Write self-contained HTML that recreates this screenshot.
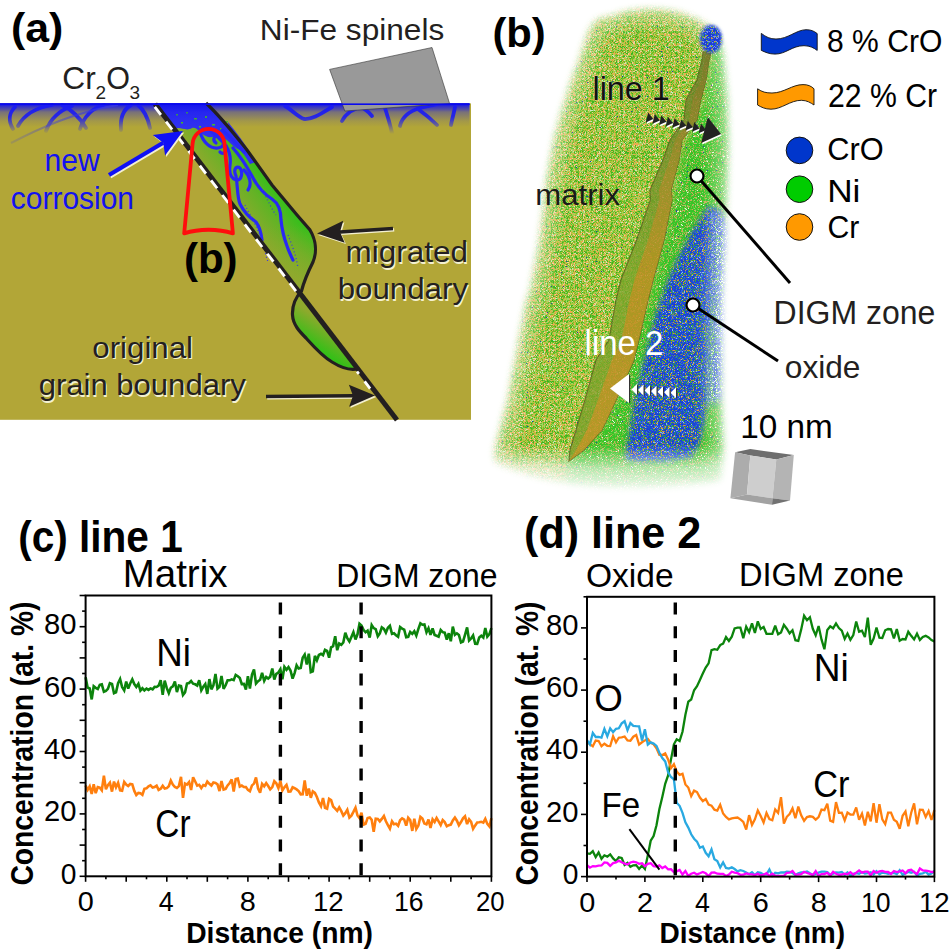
<!DOCTYPE html>
<html><head><meta charset="utf-8"><style>
html,body{margin:0;padding:0;background:#fff;}
svg{display:block;font-family:"Liberation Sans", sans-serif;}
</style></head><body>
<svg width="951" height="952" viewBox="0 0 951 952">
<rect width="951" height="952" fill="#fff"/>
<rect x="0" y="103.4" width="471" height="316.4" fill="#b2a637"/>
<defs>
<linearGradient id="blueband" x1="0" y1="103.4" x2="0" y2="127" gradientUnits="userSpaceOnUse">
 <stop offset="0" stop-color="#1414ec" stop-opacity="1"/>
 <stop offset="0.06" stop-color="#1414ec" stop-opacity="1"/>
 <stop offset="0.106" stop-color="#1414ec" stop-opacity="0.84"/>
 <stop offset="0.277" stop-color="#1414ec" stop-opacity="0.55"/>
 <stop offset="0.362" stop-color="#1414ec" stop-opacity="0.37"/>
 <stop offset="0.532" stop-color="#1414ec" stop-opacity="0.25"/>
 <stop offset="0.745" stop-color="#1414ec" stop-opacity="0.1"/>
 <stop offset="1" stop-color="#1414ec" stop-opacity="0"/>
</linearGradient>
<linearGradient id="fadeDown" x1="0" y1="103" x2="0" y2="134" gradientUnits="userSpaceOnUse">
 <stop offset="0" stop-color="#fff" stop-opacity="1"/>
 <stop offset="0.45" stop-color="#fff" stop-opacity="0.9"/>
 <stop offset="1" stop-color="#fff" stop-opacity="0"/>
</linearGradient>
<mask id="mFade"><rect x="0" y="100" width="471" height="40" fill="url(#fadeDown)"/></mask>
<linearGradient id="fadeL" x1="10" y1="0" x2="118" y2="0" gradientUnits="userSpaceOnUse"><stop offset="0" stop-color="#fff" stop-opacity="0.2"/><stop offset="1" stop-color="#fff" stop-opacity="1"/></linearGradient>
<mask id="mFade2"><rect x="0" y="100" width="200" height="50" fill="url(#fadeL)"/></mask>
<linearGradient id="gUp" x1="228" y1="200" x2="266" y2="171" gradientUnits="userSpaceOnUse">
 <stop offset="0" stop-color="#8fa92d"/>
 <stop offset="0.55" stop-color="#62b325"/>
 <stop offset="1" stop-color="#2ec119"/>
</linearGradient>
<linearGradient id="gUp2" x1="0" y1="225" x2="0" y2="292" gradientUnits="userSpaceOnUse">
 <stop offset="0" stop-color="#8fa92d" stop-opacity="0"/>
 <stop offset="1" stop-color="#95a82e" stop-opacity="0.9"/>
</linearGradient>
<linearGradient id="gLow" x1="318" y1="318" x2="300" y2="345" gradientUnits="userSpaceOnUse">
 <stop offset="0" stop-color="#8fa92d"/>
 <stop offset="1" stop-color="#1cc511"/>
</linearGradient>
</defs>
<path d="M155,103 L300,291 C303,285 307,274 313,262 C317,252 316,240 310,230 L297,215 L272,185 L247,150 C235,135 222,118 206,103 Z" fill="url(#gUp)"/>
<path d="M155,103 L300,291 C303,285 307,274 313,262 C317,252 316,240 310,230 L297,215 L272,185 L247,150 C235,135 222,118 206,103 Z" fill="url(#gUp2)"/>
<path d="M301.5,291 C296,297 292,305 292.5,315 C293,325 300,332 306,338 C315,348 322,356 332,362 C340,367 350,371 358.6,368.5 Z" fill="url(#gLow)"/>
<path d="M155,103 L175,129 C180,126 186,132 192,128 C197,126 200,134 206,136 C212,140 218,132 224,138 C230,142 234,148 240,150 C244,152 247,156 250,158 C240,140 230,125 218,114 C214,110 210,106 206,103 Z" fill="#3030f0"/>
<path d="M228,122 C236,132 244,142 252,156 L256,162 L250,164 C244,154 238,146 230,138 Z" fill="#3030f0"/>
<g fill="#46c21e"><rect x="186" y="112" width="2" height="1.5"/><rect x="194" y="118" width="3" height="1.5"/><rect x="205" y="116" width="2" height="2"/><rect x="212" y="124" width="3" height="1.5"/><rect x="199" y="126" width="2" height="1.5"/><rect x="220" y="128" width="2" height="2"/><rect x="181" y="122" width="2" height="1.5"/><rect x="226" y="121" width="2" height="1.5"/><rect x="176" y="114" width="2" height="1.5"/></g>
<g fill="none" stroke="#2828f5" stroke-width="3.2" stroke-linecap="round" stroke-linejoin="round"><path d="M200,132 C203,142 210,149 218,148 C225,147 226,139 220,136 C214,134 212,140 216,143"/><path d="M226,146 C230,152 231,158 230,165 C229,172 230,178 236,180 C242,181 243,172 240,168 C236,165 233,170 236,176 C238,188 237,196 240,204 C244,212 250,218 256,222 C259,226 261,232 262,240"/><path d="M233,148 C240,156 246,165 252,176 C258,188 264,194 272,199 C278,203 281,210 281,220 C282,230 284,238 287,246 C289,252 291,256 293,260"/><path d="M222,130 C232,138 238,146 244,152"/><path d="M208,128 C214,134 222,140 226,146 C228,150 224,156 220,152"/><path d="M244,170 C250,176 252,184 248,190"/></g>
<g fill="none" stroke="#3434f0" stroke-width="1.2" stroke-dasharray="1 2.5"><path d="M245,205 C250,215 256,225 262,240 C264,248 266,256 268,262"/><path d="M288,235 C292,245 296,255 298,268"/><path d="M262,190 C268,200 272,210 276,215"/></g>
<rect x="0" y="103.4" width="469.5" height="23.6" fill="url(#blueband)"/>
<g mask="url(#mFade)" fill="none" stroke="#1c1cf2" stroke-width="3.8" stroke-linecap="round"><path d="M15,107 C9,113 8,121 13,129"/><path d="M18,126 C24,115 34,108 52,105"/><path d="M46,131 C50,120 58,111 72,106"/><path d="M62,105 C72,110 80,118 86,128"/><path d="M80,129 C84,117 92,108 104,105"/><path d="M121,130 C120,118 124,109 131,105"/><path d="M138,105 C144,110 148,118 150,128"/><path d="M285,106 C292,110 298,117 304,119 C312,120 322,113 332,107"/><path d="M342,121 C346,113 354,108 366,105"/><path d="M357,105 C364,108 369,112 372,116"/><path d="M384,105 C387,114 390,124 392,133"/><path d="M400,126 C402,117 410,111 420,108 C428,106 434,105 437,104"/><path d="M418,109 C425,114 431,119 437,125"/><path d="M455,107 C454,113 452,119 451,125"/></g>
<path d="M11,143 C40,128 75,112 118,105" fill="none" stroke="#3a3ae0" stroke-width="2.2" opacity="0.8" mask="url(#mFade2)"/>
<rect x="0" y="103.4" width="469.5" height="1.6" fill="#0a0aee"/>
<path d="M206,103 C222,118 235,135 247,150 L272,185 L297,215 L310,230 C316,240 317,252 313,262 C307,274 303,285 301.5,291 C296,297 292,305 292.5,315 C293,325 300,332 306,338 C315,348 322,356 332,362 C340,367 350,371 358.6,368.5" fill="none" stroke="#231f20" stroke-width="3.2"/>
<line x1="155" y1="104" x2="397" y2="420" stroke="#231f20" stroke-width="5"/>
<line x1="153.6" y1="105.3" x2="300" y2="296.4" stroke="#fff" stroke-width="2.8" stroke-dasharray="10 8.5" stroke-dashoffset="-2"/>
<line x1="357" y1="371.5" x2="372" y2="391" stroke="#fff" stroke-width="2.8" stroke-dasharray="3 9.5 9 30"/>
<path d="M184.2,233.4 L192.6,143.6 A16,16 0 0 1 224.5,143.6 L232.9,233.4 C218,228.5 199,228.5 184.2,233.4 Z" fill="none" stroke="#ff0d0d" stroke-width="3.8" stroke-linejoin="round"/>
<line x1="110.2" y1="176.4" x2="164.4" y2="144.2" stroke="#f4f0d0" stroke-width="4.2"/><path d="M184.2,132.4 L166.3,157.0 L164.4,144.2 L154.0,136.4 Z" fill="#f4f0d0"/><line x1="109.0" y1="175.0" x2="163.2" y2="142.8" stroke="#1010f5" stroke-width="4.2"/><path d="M183.0,131.0 L165.1,155.6 L163.2,142.8 L152.8,135.0 Z" fill="#1010f5"/>
<line x1="394.2" y1="229.9" x2="341.2" y2="233.4" stroke="#f4f0d0" stroke-width="3.4"/><path d="M318.2,234.9 L344.4,222.2 L341.2,233.4 L345.9,244.1 Z" fill="#f4f0d0"/><line x1="393.0" y1="228.5" x2="340.0" y2="232.0" stroke="#231f20" stroke-width="3.4"/><path d="M317.0,233.5 L343.2,220.8 L340.0,232.0 L344.7,242.7 Z" fill="#231f20"/>
<line x1="267.2" y1="397.9" x2="354.2" y2="397.1" stroke="#f4f0d0" stroke-width="3.4"/><path d="M376.2,396.9 L350.3,408.1 L354.2,397.1 L350.1,386.1 Z" fill="#f4f0d0"/><line x1="266.0" y1="396.5" x2="353.0" y2="395.7" stroke="#231f20" stroke-width="3.4"/><path d="M375.0,395.5 L349.1,406.7 L353.0,395.7 L348.9,384.7 Z" fill="#231f20"/>
<path d="M329.6,69.4 L432,47.5 L449.6,103.5 L344.8,111 Z" fill="#999" stroke="#333" stroke-width="0.6"/>
<rect x="0" y="103.4" width="469.5" height="1.6" fill="#0a0aee"/>
<polyline points="85.6,677.2 87.6,687.5 89.7,688.5 91.7,699.4 93.7,686.2 95.7,687.8 97.8,689.0 99.8,684.8 101.8,684.3 103.9,691.8 105.9,690.9 107.9,688.9 109.9,683.2 112.0,683.9 114.0,693.2 116.0,692.3 118.1,683.1 120.1,679.0 122.1,687.1 124.2,690.4 126.2,681.6 128.2,688.6 130.2,683.5 132.3,679.4 134.3,684.1 136.3,686.9 138.4,683.7 140.4,690.6 142.4,688.3 144.4,690.4 146.5,688.6 148.5,689.9 150.5,688.4 152.6,689.3 154.6,686.9 156.6,687.0 158.6,685.7 160.7,680.2 162.7,694.8 164.7,680.6 166.8,688.2 168.8,693.1 170.8,687.8 172.8,686.4 174.9,681.5 176.9,692.1 178.9,685.6 181.0,686.1 183.0,695.0 185.0,692.5 187.0,683.5 189.1,683.0 191.1,681.0 193.1,683.7 195.2,684.3 197.2,685.6 199.2,680.2 201.3,690.3 203.3,686.8 205.3,684.1 207.3,693.9 209.4,679.1 211.4,689.3 213.4,685.4 215.5,674.0 217.5,688.6 219.5,686.8 221.5,676.0 223.6,688.9 225.6,685.3 227.6,680.3 229.7,680.3 231.7,679.3 233.7,680.1 235.7,674.9 237.8,676.2 239.8,678.0 241.8,684.1 243.9,683.9 245.9,689.6 247.9,676.3 249.9,688.5 252.0,674.6 254.0,669.4 256.0,683.5 258.1,681.2 260.1,679.8 262.1,672.9 264.2,680.9 266.2,676.9 268.2,678.5 270.2,676.7 272.3,668.6 274.3,679.5 276.3,673.9 278.4,672.5 280.4,669.2 282.4,679.3 284.4,666.9 286.5,669.8 288.5,667.1 290.5,670.5 292.6,678.6 294.6,673.1 296.6,665.3 298.6,668.6 300.7,668.0 302.7,657.7 304.7,654.6 306.8,664.6 308.8,653.7 310.8,672.2 312.8,671.4 314.9,655.8 316.9,660.3 318.9,655.0 321.0,653.8 323.0,655.2 325.0,649.8 327.1,650.9 329.1,657.7 331.1,647.4 333.1,646.1 335.2,636.3 337.2,650.2 339.2,643.6 341.3,644.9 343.3,642.5 345.3,632.7 347.3,638.2 349.4,641.5 351.4,636.9 353.4,632.2 355.5,639.5 357.5,634.3 359.5,623.7 361.5,625.5 363.6,630.0 365.6,632.2 367.6,630.6 369.7,637.6 371.7,625.1 373.7,628.1 375.7,629.1 377.8,636.3 379.8,633.4 381.8,627.4 383.9,628.8 385.9,632.7 387.9,627.8 389.9,625.8 392.0,633.9 394.0,633.3 396.0,635.2 398.1,636.7 400.1,627.1 402.1,628.6 404.2,629.6 406.2,637.3 408.2,636.8 410.2,632.0 412.3,633.9 414.3,631.3 416.3,635.6 418.4,628.9 420.4,623.3 422.4,624.7 424.4,624.5 426.5,632.3 428.5,628.2 430.5,634.8 432.6,628.5 434.6,635.0 436.6,635.7 438.6,636.6 440.7,630.0 442.7,632.2 444.7,632.7 446.8,639.5 448.8,633.2 450.8,641.2 452.8,626.7 454.9,634.8 456.9,633.3 458.9,634.9 461.0,642.4 463.0,641.5 465.0,634.8 467.1,627.4 469.1,640.5 471.1,638.5 473.1,635.4 475.2,643.7 477.2,643.8 479.2,637.5 481.3,635.8 483.3,637.6 485.3,628.1 487.3,636.7 489.4,634.2 491.4,628.1" fill="none" stroke="#0c840c" stroke-width="2.6" stroke-linejoin="miter" stroke-miterlimit="3"/>
<polyline points="85.6,785.5 87.6,790.0 89.7,786.4 91.7,793.9 93.7,784.3 95.7,793.2 97.8,787.1 99.8,787.6 101.8,790.2 103.9,775.8 105.9,789.3 107.9,785.1 109.9,782.6 112.0,791.6 114.0,781.6 116.0,787.3 118.1,782.8 120.1,790.3 122.1,790.7 124.2,781.9 126.2,784.6 128.2,786.0 130.2,784.0 132.3,784.4 134.3,790.9 136.3,795.0 138.4,792.9 140.4,793.3 142.4,794.9 144.4,788.8 146.5,788.3 148.5,786.3 150.5,785.3 152.6,787.6 154.6,787.0 156.6,785.7 158.6,789.9 160.7,788.7 162.7,785.8 164.7,788.5 166.8,788.1 168.8,786.2 170.8,780.6 172.8,784.5 174.9,787.0 176.9,788.0 178.9,786.1 181.0,776.9 183.0,797.9 185.0,783.5 187.0,784.6 189.1,782.1 191.1,790.0 193.1,777.2 195.2,781.5 197.2,785.6 199.2,784.8 201.3,788.1 203.3,785.1 205.3,785.8 207.3,781.6 209.4,783.8 211.4,785.5 213.4,782.5 215.5,783.0 217.5,784.3 219.5,791.1 221.5,781.1 223.6,789.6 225.6,788.9 227.6,785.4 229.7,783.0 231.7,779.4 233.7,791.5 235.7,779.1 237.8,778.5 239.8,786.6 241.8,785.6 243.9,787.0 245.9,787.1 247.9,789.9 249.9,791.3 252.0,785.4 254.0,783.6 256.0,777.5 258.1,788.5 260.1,792.7 262.1,783.9 264.2,786.3 266.2,783.1 268.2,786.0 270.2,789.3 272.3,787.1 274.3,781.2 276.3,783.3 278.4,788.1 280.4,780.9 282.4,790.4 284.4,787.4 286.5,785.0 288.5,791.7 290.5,791.5 292.6,787.3 294.6,788.2 296.6,789.4 298.6,791.1 300.7,794.3 302.7,794.2 304.7,780.4 306.8,795.7 308.8,788.5 310.8,797.8 312.8,791.3 314.9,792.9 316.9,797.0 318.9,802.4 321.0,806.2 323.0,798.0 325.0,807.8 327.1,808.7 329.1,798.8 331.1,800.0 333.1,806.5 335.2,808.6 337.2,810.8 339.2,807.3 341.3,811.1 343.3,815.6 345.3,813.2 347.3,809.8 349.4,817.5 351.4,815.6 353.4,811.9 355.5,807.7 357.5,815.5 359.5,818.1 361.5,812.6 363.6,824.7 365.6,823.8 367.6,818.0 369.7,817.5 371.7,819.9 373.7,831.9 375.7,818.7 377.8,819.0 379.8,821.4 381.8,818.9 383.9,816.0 385.9,821.3 387.9,825.1 389.9,828.6 392.0,821.2 394.0,824.2 396.0,823.6 398.1,825.8 400.1,820.2 402.1,818.4 404.2,819.6 406.2,825.6 408.2,817.7 410.2,820.0 412.3,830.9 414.3,818.8 416.3,829.0 418.4,825.5 420.4,816.9 422.4,818.5 424.4,823.5 426.5,824.4 428.5,819.6 430.5,827.9 432.6,819.3 434.6,822.0 436.6,818.0 438.6,821.3 440.7,825.0 442.7,820.0 444.7,822.1 446.8,826.3 448.8,825.2 450.8,824.6 452.8,820.4 454.9,817.6 456.9,820.7 458.9,825.3 461.0,822.0 463.0,818.3 465.0,816.3 467.1,824.1 469.1,819.3 471.1,821.9 473.1,828.8 475.2,825.4 477.2,822.5 479.2,822.3 481.3,821.8 483.3,822.6 485.3,818.8 487.3,823.9 489.4,826.4 491.4,818.2" fill="none" stroke="#ff7f0e" stroke-width="2.6" stroke-linejoin="miter" stroke-miterlimit="3"/>
<line x1="280.4" y1="602.5" x2="280.4" y2="876" stroke="#000" stroke-width="3.4" stroke-dasharray="12 11.7"/>
<line x1="361.1" y1="602.5" x2="361.1" y2="876" stroke="#000" stroke-width="3.4" stroke-dasharray="12 11.7"/>
<rect x="85.6" y="595.5" width="405.8" height="280.8" fill="none" stroke="#000" stroke-width="2"/>
<line x1="79.6" y1="876.3" x2="85.6" y2="876.3" stroke="#000" stroke-width="1.6"/>
<line x1="82.1" y1="860.7" x2="85.6" y2="860.7" stroke="#000" stroke-width="1.6"/>
<line x1="79.6" y1="845.1" x2="85.6" y2="845.1" stroke="#000" stroke-width="1.6"/>
<line x1="82.1" y1="829.5" x2="85.6" y2="829.5" stroke="#000" stroke-width="1.6"/>
<line x1="79.6" y1="813.9" x2="85.6" y2="813.9" stroke="#000" stroke-width="1.6"/>
<line x1="82.1" y1="798.3" x2="85.6" y2="798.3" stroke="#000" stroke-width="1.6"/>
<line x1="79.6" y1="782.7" x2="85.6" y2="782.7" stroke="#000" stroke-width="1.6"/>
<line x1="82.1" y1="767.1" x2="85.6" y2="767.1" stroke="#000" stroke-width="1.6"/>
<line x1="79.6" y1="751.5" x2="85.6" y2="751.5" stroke="#000" stroke-width="1.6"/>
<line x1="82.1" y1="735.9" x2="85.6" y2="735.9" stroke="#000" stroke-width="1.6"/>
<line x1="79.6" y1="720.3" x2="85.6" y2="720.3" stroke="#000" stroke-width="1.6"/>
<line x1="82.1" y1="704.7" x2="85.6" y2="704.7" stroke="#000" stroke-width="1.6"/>
<line x1="79.6" y1="689.1" x2="85.6" y2="689.1" stroke="#000" stroke-width="1.6"/>
<line x1="82.1" y1="673.5" x2="85.6" y2="673.5" stroke="#000" stroke-width="1.6"/>
<line x1="79.6" y1="657.9" x2="85.6" y2="657.9" stroke="#000" stroke-width="1.6"/>
<line x1="82.1" y1="642.3" x2="85.6" y2="642.3" stroke="#000" stroke-width="1.6"/>
<line x1="79.6" y1="626.7" x2="85.6" y2="626.7" stroke="#000" stroke-width="1.6"/>
<line x1="82.1" y1="611.1" x2="85.6" y2="611.1" stroke="#000" stroke-width="1.6"/>
<line x1="79.6" y1="595.5" x2="85.6" y2="595.5" stroke="#000" stroke-width="1.6"/>
<line x1="85.6" y1="876.3" x2="85.6" y2="881.8" stroke="#000" stroke-width="1.6"/>
<line x1="105.9" y1="876.3" x2="105.9" y2="879.3" stroke="#000" stroke-width="1.6"/>
<line x1="126.2" y1="876.3" x2="126.2" y2="881.8" stroke="#000" stroke-width="1.6"/>
<line x1="146.5" y1="876.3" x2="146.5" y2="879.3" stroke="#000" stroke-width="1.6"/>
<line x1="166.8" y1="876.3" x2="166.8" y2="881.8" stroke="#000" stroke-width="1.6"/>
<line x1="187.0" y1="876.3" x2="187.0" y2="879.3" stroke="#000" stroke-width="1.6"/>
<line x1="207.3" y1="876.3" x2="207.3" y2="881.8" stroke="#000" stroke-width="1.6"/>
<line x1="227.6" y1="876.3" x2="227.6" y2="879.3" stroke="#000" stroke-width="1.6"/>
<line x1="247.9" y1="876.3" x2="247.9" y2="881.8" stroke="#000" stroke-width="1.6"/>
<line x1="268.2" y1="876.3" x2="268.2" y2="879.3" stroke="#000" stroke-width="1.6"/>
<line x1="288.5" y1="876.3" x2="288.5" y2="881.8" stroke="#000" stroke-width="1.6"/>
<line x1="308.8" y1="876.3" x2="308.8" y2="879.3" stroke="#000" stroke-width="1.6"/>
<line x1="329.1" y1="876.3" x2="329.1" y2="881.8" stroke="#000" stroke-width="1.6"/>
<line x1="349.4" y1="876.3" x2="349.4" y2="879.3" stroke="#000" stroke-width="1.6"/>
<line x1="369.7" y1="876.3" x2="369.7" y2="881.8" stroke="#000" stroke-width="1.6"/>
<line x1="389.9" y1="876.3" x2="389.9" y2="879.3" stroke="#000" stroke-width="1.6"/>
<line x1="410.2" y1="876.3" x2="410.2" y2="881.8" stroke="#000" stroke-width="1.6"/>
<line x1="430.5" y1="876.3" x2="430.5" y2="879.3" stroke="#000" stroke-width="1.6"/>
<line x1="450.8" y1="876.3" x2="450.8" y2="881.8" stroke="#000" stroke-width="1.6"/>
<line x1="471.1" y1="876.3" x2="471.1" y2="879.3" stroke="#000" stroke-width="1.6"/>
<line x1="491.4" y1="876.3" x2="491.4" y2="881.8" stroke="#000" stroke-width="1.6"/>
<polyline points="587.0,853.4 589.9,853.8 592.8,851.2 595.7,857.2 598.6,852.5 601.5,858.8 604.4,855.3 607.3,856.6 610.2,854.4 613.1,858.4 616.0,861.0 618.8,857.3 621.7,858.0 624.6,864.9 627.5,862.8 630.4,866.8 633.3,865.3 636.2,865.1 639.1,868.9 642.0,865.6 644.9,869.0 647.8,855.6 650.7,840.7 653.6,836.1 656.5,825.2 659.4,809.0 662.3,796.9 665.2,783.8 668.1,775.4 671.0,759.4 673.9,744.3 676.7,739.3 679.6,741.0 682.5,731.8 685.4,714.7 688.3,701.7 691.2,699.5 694.1,690.2 697.0,686.2 699.9,680.0 702.8,673.6 705.7,667.6 708.6,663.4 711.5,650.1 714.4,649.1 717.3,649.8 720.2,645.1 723.1,643.6 726.0,637.0 728.9,641.0 731.8,636.7 734.6,628.4 737.5,627.7 740.4,627.7 743.3,638.1 746.2,626.6 749.1,632.0 752.0,623.4 754.9,632.9 757.8,621.4 760.7,628.9 763.6,627.0 766.5,633.8 769.4,633.9 772.3,633.8 775.2,625.7 778.1,634.3 781.0,632.4 783.9,624.8 786.8,628.7 789.6,633.3 792.5,630.2 795.4,640.2 798.3,640.9 801.2,629.4 804.1,615.8 807.0,620.2 809.9,617.3 812.8,628.8 815.7,635.3 818.6,626.0 821.5,639.4 824.4,649.3 827.3,629.9 830.2,626.4 833.1,628.3 836.0,623.4 838.9,628.1 841.8,630.6 844.7,638.9 847.5,633.5 850.4,639.8 853.3,635.0 856.2,621.6 859.1,631.7 862.0,630.7 864.9,637.1 867.8,617.7 870.7,644.8 873.6,638.6 876.5,627.6 879.4,637.7 882.3,638.0 885.2,630.3 888.1,629.0 891.0,629.4 893.9,638.5 896.8,629.1 899.7,640.7 902.6,639.0 905.5,639.5 908.3,631.8 911.2,635.8 914.1,639.4 917.0,633.6 919.9,639.9 922.8,636.9 925.7,635.8 928.6,637.4 931.5,640.0 934.4,641.5" fill="none" stroke="#0c840c" stroke-width="2.3" stroke-linejoin="miter" stroke-miterlimit="3"/>
<polyline points="587.0,742.4 589.9,744.1 592.8,746.3 595.7,740.6 598.6,741.0 601.5,746.2 604.4,743.7 607.3,745.8 610.2,746.1 613.1,736.2 616.0,742.4 618.8,737.7 621.7,737.3 624.6,736.5 627.5,740.4 630.4,740.7 633.3,736.7 636.2,735.0 639.1,744.6 642.0,742.3 644.9,740.4 647.8,738.9 650.7,742.8 653.6,744.3 656.5,748.4 659.4,754.8 662.3,755.0 665.2,753.4 668.1,759.5 671.0,768.1 673.9,764.2 676.7,771.4 679.6,774.8 682.5,773.8 685.4,784.4 688.3,787.6 691.2,796.1 694.1,790.6 697.0,792.0 699.9,797.6 702.8,801.1 705.7,799.0 708.6,804.6 711.5,805.6 714.4,809.7 717.3,810.6 720.2,804.8 723.1,813.5 726.0,817.0 728.9,819.4 731.8,818.3 734.6,817.9 737.5,817.5 740.4,819.4 743.3,821.9 746.2,829.6 749.1,815.2 752.0,824.9 754.9,819.3 757.8,810.5 760.7,816.0 763.6,822.5 766.5,813.0 769.4,819.0 772.3,820.2 775.2,809.4 778.1,812.9 781.0,797.2 783.9,823.6 786.8,816.8 789.6,814.0 792.5,808.4 795.4,818.2 798.3,806.6 801.2,815.4 804.1,820.8 807.0,817.1 809.9,816.3 812.8,816.8 815.7,819.6 818.6,817.1 821.5,809.6 824.4,810.1 827.3,803.7 830.2,820.6 833.1,821.9 836.0,802.1 838.9,812.8 841.8,812.6 844.7,820.4 847.5,812.5 850.4,814.5 853.3,814.6 856.2,807.4 859.1,819.7 862.0,813.6 864.9,825.4 867.8,811.8 870.7,821.3 873.6,803.2 876.5,822.7 879.4,804.2 882.3,819.4 885.2,824.1 888.1,812.7 891.0,812.6 893.9,819.8 896.8,821.7 899.7,828.7 902.6,815.8 905.5,811.5 908.3,826.2 911.2,812.7 914.1,803.4 917.0,824.3 919.9,809.7 922.8,809.8 925.7,816.9 928.6,811.0 931.5,819.8 934.4,810.1" fill="none" stroke="#ff7f0e" stroke-width="2.3" stroke-linejoin="miter" stroke-miterlimit="3"/>
<polyline points="587.0,740.2 589.9,744.5 592.8,732.9 595.7,737.0 598.6,736.8 601.5,737.6 604.4,728.9 607.3,736.2 610.2,728.3 613.1,732.1 616.0,728.8 618.8,728.3 621.7,723.4 624.6,721.2 627.5,730.1 630.4,723.1 633.3,725.9 636.2,726.2 639.1,726.4 642.0,740.6 644.9,729.2 647.8,744.7 650.7,742.4 653.6,743.6 656.5,745.9 659.4,752.8 662.3,758.0 665.2,761.4 668.1,772.2 671.0,777.0 673.9,779.4 676.7,802.7 679.6,805.8 682.5,812.8 685.4,822.3 688.3,827.6 691.2,834.3 694.1,838.7 697.0,841.6 699.9,847.8 702.8,846.5 705.7,852.8 708.6,856.3 711.5,849.5 714.4,859.2 717.3,861.1 720.2,867.4 723.1,862.4 726.0,868.0 728.9,868.6 731.8,867.2 734.6,869.0 737.5,871.4 740.4,870.2 743.3,871.0 746.2,872.4 749.1,874.2 752.0,872.2 754.9,875.0 757.8,872.3 760.7,872.9 763.6,874.6 766.5,874.4 769.4,869.4 772.3,875.7 775.2,872.8 778.1,873.4 781.0,872.3 783.9,872.5 786.8,871.7 789.6,871.9 792.5,873.0 795.4,874.9 798.3,873.4 801.2,872.3 804.1,872.3 807.0,871.4 809.9,873.3 812.8,874.7 815.7,873.9 818.6,872.7 821.5,871.7 824.4,871.7 827.3,872.0 830.2,874.9 833.1,873.7 836.0,872.4 838.9,872.7 841.8,872.0 844.7,874.9 847.5,872.3 850.4,875.7 853.3,873.9 856.2,873.1 859.1,873.7 862.0,872.0 864.9,873.6 867.8,873.2 870.7,872.3 873.6,874.5 876.5,871.2 879.4,874.2 882.3,872.5 885.2,873.0 888.1,873.9 891.0,873.2 893.9,872.9 896.8,874.0 899.7,870.3 902.6,874.8 905.5,873.4 908.3,871.8 911.2,872.7 914.1,871.9 917.0,875.6 919.9,873.8 922.8,873.4 925.7,871.7 928.6,874.6 931.5,873.6 934.4,870.9" fill="none" stroke="#29a9e1" stroke-width="2.3" stroke-linejoin="miter" stroke-miterlimit="3"/>
<polyline points="587.0,865.2 589.9,867.7 592.8,866.1 595.7,866.4 598.6,865.7 601.5,865.5 604.4,862.4 607.3,862.9 610.2,865.9 613.1,863.1 616.0,862.5 618.8,860.7 621.7,862.2 624.6,863.6 627.5,864.5 630.4,862.5 633.3,861.7 636.2,862.3 639.1,863.8 642.0,863.3 644.9,866.2 647.8,863.9 650.7,863.2 653.6,866.1 656.5,866.5 659.4,865.4 662.3,868.1 665.2,866.5 668.1,869.3 671.0,869.1 673.9,872.2 676.7,871.3 679.6,870.0 682.5,874.6 685.4,871.1 688.3,876.0 691.2,873.7 694.1,872.7 697.0,874.4 699.9,873.2 702.8,871.9 705.7,873.3 708.6,876.0 711.5,872.7 714.4,872.4 717.3,873.7 720.2,873.9 723.1,873.9 726.0,876.0 728.9,874.6 731.8,871.7 734.6,872.6 737.5,873.2 740.4,874.8 743.3,874.7 746.2,873.4 749.1,874.1 752.0,874.3 754.9,875.1 757.8,873.7 760.7,875.4 763.6,874.7 766.5,873.2 769.4,876.0 772.3,873.7 775.2,875.8 778.1,876.0 781.0,875.9 783.9,875.8 786.8,872.8 789.6,872.7 792.5,871.0 795.4,874.6 798.3,874.5 801.2,874.2 804.1,871.8 807.0,873.0 809.9,873.9 812.8,875.1 815.7,871.1 818.6,876.0 821.5,874.1 824.4,874.0 827.3,872.8 830.2,875.5 833.1,871.8 836.0,873.8 838.9,874.9 841.8,874.5 844.7,873.6 847.5,874.3 850.4,872.2 853.3,874.7 856.2,872.7 859.1,870.4 862.0,872.6 864.9,871.6 867.8,871.7 870.7,875.4 873.6,871.0 876.5,872.8 879.4,871.4 882.3,871.0 885.2,871.8 888.1,872.0 891.0,874.0 893.9,871.0 896.8,872.0 899.7,871.3 902.6,870.5 905.5,873.4 908.3,870.4 911.2,869.7 914.1,872.1 917.0,874.0 919.9,868.5 922.8,870.4 925.7,870.6 928.6,871.2 931.5,872.0 934.4,871.9" fill="none" stroke="#ff00ff" stroke-width="2.3" stroke-linejoin="miter" stroke-miterlimit="3"/>
<line x1="675.3" y1="602.5" x2="675.3" y2="876" stroke="#000" stroke-width="3.4" stroke-dasharray="12 11.7"/>
<rect x="587.0" y="596.8" width="347.4" height="279.8" fill="none" stroke="#000" stroke-width="2"/>
<line x1="581.0" y1="876.6" x2="587.0" y2="876.6" stroke="#000" stroke-width="1.6"/>
<line x1="583.5" y1="845.5" x2="587.0" y2="845.5" stroke="#000" stroke-width="1.6"/>
<line x1="581.0" y1="814.4" x2="587.0" y2="814.4" stroke="#000" stroke-width="1.6"/>
<line x1="583.5" y1="783.3" x2="587.0" y2="783.3" stroke="#000" stroke-width="1.6"/>
<line x1="581.0" y1="752.2" x2="587.0" y2="752.2" stroke="#000" stroke-width="1.6"/>
<line x1="583.5" y1="721.2" x2="587.0" y2="721.2" stroke="#000" stroke-width="1.6"/>
<line x1="581.0" y1="690.1" x2="587.0" y2="690.1" stroke="#000" stroke-width="1.6"/>
<line x1="583.5" y1="659.0" x2="587.0" y2="659.0" stroke="#000" stroke-width="1.6"/>
<line x1="581.0" y1="627.9" x2="587.0" y2="627.9" stroke="#000" stroke-width="1.6"/>
<line x1="583.5" y1="596.8" x2="587.0" y2="596.8" stroke="#000" stroke-width="1.6"/>
<line x1="587.0" y1="876.6" x2="587.0" y2="882.1" stroke="#000" stroke-width="1.6"/>
<line x1="616.0" y1="876.6" x2="616.0" y2="879.6" stroke="#000" stroke-width="1.6"/>
<line x1="644.9" y1="876.6" x2="644.9" y2="882.1" stroke="#000" stroke-width="1.6"/>
<line x1="673.9" y1="876.6" x2="673.9" y2="879.6" stroke="#000" stroke-width="1.6"/>
<line x1="702.8" y1="876.6" x2="702.8" y2="882.1" stroke="#000" stroke-width="1.6"/>
<line x1="731.8" y1="876.6" x2="731.8" y2="879.6" stroke="#000" stroke-width="1.6"/>
<line x1="760.7" y1="876.6" x2="760.7" y2="882.1" stroke="#000" stroke-width="1.6"/>
<line x1="789.6" y1="876.6" x2="789.6" y2="879.6" stroke="#000" stroke-width="1.6"/>
<line x1="818.6" y1="876.6" x2="818.6" y2="882.1" stroke="#000" stroke-width="1.6"/>
<line x1="847.5" y1="876.6" x2="847.5" y2="879.6" stroke="#000" stroke-width="1.6"/>
<line x1="876.5" y1="876.6" x2="876.5" y2="882.1" stroke="#000" stroke-width="1.6"/>
<line x1="905.5" y1="876.6" x2="905.5" y2="879.6" stroke="#000" stroke-width="1.6"/>
<line x1="934.4" y1="876.6" x2="934.4" y2="882.1" stroke="#000" stroke-width="1.6"/>
<line x1="629.4" y1="829.1" x2="659.4" y2="869.7" stroke="#000" stroke-width="2"/>
<defs><filter id="fMat" x="0" y="0" width="100%" height="100%" color-interpolation-filters="sRGB"><feTurbulence type="fractalNoise" baseFrequency="2.2" numOctaves="1" seed="3"/><feColorMatrix type="matrix" values="1 0 0 0 0  1 0 0 0 0  1 0 0 0 0  0 0 0 0 1"/><feComponentTransfer><feFuncR type="discrete" tableValues="0.431 0.431 0.431 0.431 0.431 0.431 0.431 0.431 0.431 0.431 0.431 0.431 0.431 0.431 0.431 0.431 0.431 0.431 0.431 0.431 0.431 0.431 0.431 0.431 0.431 0.431 0.706 0.706 0.706 0.706 0.922 0.922 0.961 0.627 0.627 0.627 0.627 0.784 0.235 0.235 0.235 0.235 0.235 0.235 0.235 0.235 0.157 0.157 0.157 0.157 0.157 0.157 0.157 0.157 0.157 0.157 0.157 0.157 0.157 0.157"/><feFuncG type="discrete" tableValues="0.745 0.745 0.745 0.745 0.745 0.745 0.745 0.745 0.745 0.745 0.745 0.745 0.745 0.745 0.745 0.745 0.745 0.745 0.745 0.745 0.745 0.745 0.745 0.745 0.745 0.745 0.765 0.765 0.765 0.765 0.667 0.667 0.804 0.843 0.843 0.843 0.843 0.922 0.706 0.706 0.706 0.706 0.706 0.706 0.706 0.706 0.235 0.235 0.235 0.235 0.235 0.235 0.235 0.235 0.235 0.235 0.235 0.235 0.235 0.235"/><feFuncB type="discrete" tableValues="0.157 0.157 0.157 0.157 0.157 0.157 0.157 0.157 0.157 0.157 0.157 0.157 0.157 0.157 0.157 0.157 0.157 0.157 0.157 0.157 0.157 0.157 0.157 0.157 0.157 0.157 0.235 0.235 0.235 0.235 0.314 0.314 0.588 0.392 0.392 0.392 0.392 0.745 0.118 0.118 0.118 0.118 0.118 0.118 0.118 0.118 0.667 0.667 0.667 0.667 0.667 0.667 0.667 0.667 0.667 0.667 0.667 0.667 0.667 0.667"/></feComponentTransfer><feGaussianBlur stdDeviation="0.3"/></filter><filter id="fDig" x="0" y="0" width="100%" height="100%" color-interpolation-filters="sRGB"><feTurbulence type="fractalNoise" baseFrequency="2.2" numOctaves="1" seed="5"/><feColorMatrix type="matrix" values="1 0 0 0 0  1 0 0 0 0  1 0 0 0 0  0 0 0 0 1"/><feComponentTransfer><feFuncR type="discrete" tableValues="0.216 0.216 0.216 0.216 0.216 0.216 0.216 0.216 0.216 0.216 0.216 0.216 0.216 0.216 0.216 0.216 0.216 0.216 0.216 0.216 0.216 0.216 0.216 0.216 0.216 0.216 0.216 0.216 0.216 0.216 0.216 0.373 0.373 0.373 0.588 0.588 0.784 0.784 0.784 0.922 0.588 0.588 0.588 0.588 0.588 0.157 0.157 0.157 0.157 0.157 0.157 0.157 0.157 0.157 0.157 0.157 0.157 0.157 0.157 0.157"/><feFuncG type="discrete" tableValues="0.765 0.765 0.765 0.765 0.765 0.765 0.765 0.765 0.765 0.765 0.765 0.765 0.765 0.765 0.765 0.765 0.765 0.765 0.765 0.765 0.765 0.765 0.765 0.765 0.765 0.765 0.765 0.765 0.765 0.765 0.765 0.804 0.804 0.804 0.843 0.843 0.686 0.686 0.686 0.961 0.667 0.667 0.667 0.667 0.667 0.235 0.235 0.235 0.235 0.235 0.235 0.235 0.235 0.235 0.235 0.235 0.235 0.235 0.235 0.235"/><feFuncB type="discrete" tableValues="0.157 0.157 0.157 0.157 0.157 0.157 0.157 0.157 0.157 0.157 0.157 0.157 0.157 0.157 0.157 0.157 0.157 0.157 0.157 0.157 0.157 0.157 0.157 0.157 0.157 0.157 0.157 0.157 0.157 0.157 0.157 0.216 0.216 0.216 0.431 0.431 0.353 0.353 0.353 0.882 0.235 0.235 0.235 0.235 0.235 0.667 0.667 0.667 0.667 0.667 0.667 0.667 0.667 0.667 0.667 0.667 0.667 0.667 0.667 0.667"/></feComponentTransfer><feGaussianBlur stdDeviation="0.3"/></filter><filter id="fOx" x="0" y="0" width="100%" height="100%" color-interpolation-filters="sRGB"><feTurbulence type="fractalNoise" baseFrequency="2.2" numOctaves="1" seed="7"/><feColorMatrix type="matrix" values="1 0 0 0 0  1 0 0 0 0  1 0 0 0 0  0 0 0 0 1"/><feComponentTransfer><feFuncR type="discrete" tableValues="0.549 0.549 0.549 0.549 0.549 0.549 0.549 0.549 0.549 0.549 0.549 0.549 0.549 0.549 0.549 0.549 0.549 0.549 0.549 0.118 0.118 0.118 0.118 0.118 0.118 0.118 0.118 0.353 0.098 0.098 0.098 0.098 0.627 0.196 0.196 0.196 0.863 0.196 0.196 0.196 0.196 0.196 0.196 0.196 0.196 0.196 0.196 0.196 0.196 0.196 0.196 0.196 0.196 0.196 0.196 0.196 0.196 0.196 0.196 0.196"/><feFuncG type="discrete" tableValues="0.706 0.706 0.706 0.706 0.706 0.706 0.706 0.706 0.706 0.706 0.706 0.706 0.706 0.706 0.706 0.706 0.706 0.706 0.706 0.294 0.294 0.294 0.294 0.294 0.294 0.294 0.294 0.451 0.255 0.255 0.255 0.255 0.588 0.667 0.667 0.667 0.588 0.412 0.412 0.412 0.412 0.412 0.412 0.412 0.412 0.412 0.412 0.412 0.412 0.412 0.412 0.412 0.412 0.412 0.412 0.412 0.412 0.412 0.412 0.412"/><feFuncB type="discrete" tableValues="0.922 0.922 0.922 0.922 0.922 0.922 0.922 0.922 0.922 0.922 0.922 0.922 0.922 0.922 0.922 0.922 0.922 0.922 0.922 0.843 0.843 0.843 0.843 0.843 0.843 0.843 0.843 0.627 0.824 0.824 0.824 0.824 0.235 0.235 0.235 0.235 0.235 0.882 0.882 0.882 0.882 0.882 0.882 0.882 0.882 0.882 0.882 0.882 0.882 0.882 0.882 0.882 0.882 0.882 0.882 0.882 0.882 0.882 0.882 0.882"/></feComponentTransfer><feGaussianBlur stdDeviation="0.3"/></filter><filter id="fBlob" x="0" y="0" width="100%" height="100%" color-interpolation-filters="sRGB"><feTurbulence type="fractalNoise" baseFrequency="2.2" numOctaves="1" seed="11"/><feColorMatrix type="matrix" values="1 0 0 0 0  1 0 0 0 0  1 0 0 0 0  0 0 0 0 1"/><feComponentTransfer><feFuncR type="discrete" tableValues="0.471 0.471 0.471 0.471 0.471 0.471 0.471 0.471 0.471 0.471 0.471 0.471 0.471 0.471 0.471 0.471 0.471 0.471 0.471 0.471 0.471 0.471 0.471 0.118 0.118 0.118 0.118 0.118 0.118 0.118 0.118 0.118 0.118 0.176 0.176 0.176 0.176 0.275 0.275 0.275 0.784 0.784 0.784 0.784 0.784 0.784 0.784 0.784 0.784 0.784 0.784 0.784 0.784 0.784 0.784 0.784 0.784 0.784 0.784 0.784"/><feFuncG type="discrete" tableValues="0.588 0.588 0.588 0.588 0.588 0.588 0.588 0.588 0.588 0.588 0.588 0.588 0.588 0.588 0.588 0.588 0.588 0.588 0.588 0.588 0.588 0.588 0.588 0.235 0.235 0.235 0.235 0.235 0.235 0.235 0.235 0.235 0.235 0.353 0.353 0.353 0.353 0.667 0.667 0.667 0.588 0.588 0.588 0.588 0.588 0.588 0.588 0.588 0.588 0.588 0.588 0.588 0.588 0.588 0.588 0.588 0.588 0.588 0.588 0.588"/><feFuncB type="discrete" tableValues="0.902 0.902 0.902 0.902 0.902 0.902 0.902 0.902 0.902 0.902 0.902 0.902 0.902 0.902 0.902 0.902 0.902 0.902 0.902 0.902 0.902 0.902 0.902 0.843 0.843 0.843 0.843 0.843 0.843 0.843 0.843 0.843 0.843 0.882 0.882 0.882 0.882 0.275 0.275 0.275 0.275 0.275 0.275 0.275 0.275 0.275 0.275 0.275 0.275 0.275 0.275 0.275 0.275 0.275 0.275 0.275 0.275 0.275 0.275 0.275"/></feComponentTransfer><feGaussianBlur stdDeviation="0.3"/></filter><filter id="fOxF" x="0" y="0" width="100%" height="100%" color-interpolation-filters="sRGB"><feTurbulence type="fractalNoise" baseFrequency="2.2" numOctaves="1" seed="9"/><feColorMatrix type="matrix" values="1 0 0 0 0  1 0 0 0 0  1 0 0 0 0  0 0 0 0 1"/><feComponentTransfer><feFuncR type="discrete" tableValues="0.965 0.965 0.965 0.965 0.965 0.965 0.965 0.965 0.965 0.965 0.965 0.965 0.965 0.965 0.965 0.965 0.965 0.965 0.965 0.965 0.965 0.965 0.965 0.353 0.353 0.353 0.353 0.353 0.353 0.353 0.137 0.137 0.137 0.137 0.137 0.392 0.392 0.392 0.392 0.392 0.392 0.392 0.392 0.392 0.392 0.392 0.392 0.392 0.392 0.392 0.392 0.392 0.392 0.392 0.392 0.392 0.392 0.392 0.392 0.392"/><feFuncG type="discrete" tableValues="0.980 0.980 0.980 0.980 0.980 0.980 0.980 0.980 0.980 0.980 0.980 0.980 0.980 0.980 0.980 0.980 0.980 0.980 0.980 0.980 0.980 0.980 0.980 0.510 0.510 0.510 0.510 0.510 0.510 0.510 0.294 0.294 0.294 0.294 0.294 0.784 0.784 0.784 0.784 0.784 0.784 0.784 0.784 0.784 0.784 0.784 0.784 0.784 0.784 0.784 0.784 0.784 0.784 0.784 0.784 0.784 0.784 0.784 0.784 0.784"/><feFuncB type="discrete" tableValues="0.949 0.949 0.949 0.949 0.949 0.949 0.949 0.949 0.949 0.949 0.949 0.949 0.949 0.949 0.949 0.949 0.949 0.949 0.949 0.949 0.949 0.949 0.949 0.902 0.902 0.902 0.902 0.902 0.902 0.902 0.824 0.824 0.824 0.824 0.824 0.353 0.353 0.353 0.353 0.353 0.353 0.353 0.353 0.353 0.353 0.353 0.353 0.353 0.353 0.353 0.353 0.353 0.353 0.353 0.353 0.353 0.353 0.353 0.353 0.353"/></feComponentTransfer><feGaussianBlur stdDeviation="0.3"/></filter><filter id="fBlur8" x="-30%" y="-30%" width="160%" height="160%"><feGaussianBlur stdDeviation="3.5"/></filter><filter id="fBlur8b" x="-30%" y="-30%" width="160%" height="160%"><feGaussianBlur stdDeviation="8"/></filter><filter id="fBlur25" x="-30%" y="-30%" width="160%" height="160%"><feGaussianBlur stdDeviation="2.5"/></filter><filter id="fBlur4" x="-30%" y="-30%" width="160%" height="160%"><feGaussianBlur stdDeviation="4"/></filter><filter id="fBlur3" x="-30%" y="-30%" width="160%" height="160%"><feGaussianBlur stdDeviation="3"/></filter><filter id="fBlurS" x="-30%" y="-30%" width="160%" height="160%"><feGaussianBlur stdDeviation="0.7"/></filter><filter id="fBlur2" x="-30%" y="-30%" width="160%" height="160%"><feGaussianBlur stdDeviation="1.5"/></filter><mask id="mCone" maskUnits="userSpaceOnUse" x="460" y="0" width="300" height="520"><path d="M613,16 C625,10 645,8 665,10 C685,13 700,19 712,29 C718,35 721,45 723,55 L727,100 L728,150 L726,200 L724,250 L721,300 L721,350 L721,400 L723,450 L720,480 C700,486 640,489 600,487 C560,484 525,476 495,462 L495,450 L500,430 L508,400 L511.5,380 L515.4,360 L519,340 L523,320 L526.7,300 L530.4,290 L538,250 L542.9,215 L544,200 L546.6,180 L550.4,160 L554.2,140 L559.3,120 L565.4,100 L571.7,80 L579.3,60 L585.6,40 L589.4,30 L596,21 C600,18 606,17 613,16 Z" fill="#fff" filter="url(#fBlur8)"/></mask><mask id="mDig" maskUnits="userSpaceOnUse" x="460" y="0" width="300" height="520"><path d="M712,55 L705,100 L683,150 L673,200 L662,250 L648,300 L632,350 L617,400 L601,430 L569,459 L560,500 L740,500 L740,20 L716,20 Z" fill="#fff" filter="url(#fBlur3)"/></mask><mask id="mOx" maskUnits="userSpaceOnUse" x="460" y="0" width="300" height="520"><path d="M708,207 C718,206 726,212 728,230 L725,260 L714,300 L710,350 L708,400 L701,440 L692,457 C670,463 645,463 626,460 L626,450 L630,430 L634,400 L644,360 L654,320 L664,290 L676,262 L690,235 Z" fill="#fff" filter="url(#fBlur25)"/></mask><mask id="mOxF" maskUnits="userSpaceOnUse" x="460" y="0" width="300" height="520"><path d="M712,215 L730,220 L731,300 L728,360 L724,400 L708,405 L708,380 L712,300 Z" fill="#fff" filter="url(#fBlur4)"/></mask><mask id="mBlob" maskUnits="userSpaceOnUse" x="680" y="10" width="60" height="60"><ellipse cx="711" cy="39" rx="11" ry="14" fill="#fff" filter="url(#fBlur2)"/></mask><clipPath id="cGB"><path d="M711,52 L709,60 L706,80 L700.6,100 L697,120 L682,140 L679,160 L671,190 L672,200 L664,240 L653,280 L648,300 L638.8,340 L634,360 L616,400 L602,430 L584,450 L569,461 L570,450 L576,430 L585,400 L596,360 L609,340 L616,300 L621,280 L636.6,240 L650.4,200 L650,190 L663,160 L670,140 L684,120 L686,100 L697,80 L702,60 L703,52 Z"/></clipPath><linearGradient id="gGBo" x1="0" y1="50" x2="0" y2="460" gradientUnits="userSpaceOnUse"><stop offset="0" stop-color="#6f6a26"/><stop offset="0.3" stop-color="#7f8a2a"/><stop offset="0.55" stop-color="#86a02c"/><stop offset="1" stop-color="#8a9a2c"/></linearGradient><linearGradient id="gGBc" x1="0" y1="50" x2="0" y2="460" gradientUnits="userSpaceOnUse"><stop offset="0" stop-color="#82702a"/><stop offset="0.3" stop-color="#b0882c"/><stop offset="0.55" stop-color="#cc8c22"/><stop offset="1" stop-color="#d49028"/></linearGradient><linearGradient id="gGB" x1="0" y1="0" x2="1" y2="0.15"><stop offset="0" stop-color="#7f7a20"/><stop offset="0.35" stop-color="#b0962e"/><stop offset="0.7" stop-color="#c09a30"/><stop offset="1" stop-color="#8a9426"/></linearGradient><linearGradient id="gFadeL" x1="480" y1="0" x2="560" y2="0" gradientUnits="userSpaceOnUse"><stop offset="0" stop-color="#fff" stop-opacity="0.55"/><stop offset="1" stop-color="#fff" stop-opacity="0"/></linearGradient><linearGradient id="gFadeB" x1="0" y1="445" x2="0" y2="490" gradientUnits="userSpaceOnUse"><stop offset="0" stop-color="#fff" stop-opacity="0"/><stop offset="0.5" stop-color="#fff" stop-opacity="0.55"/><stop offset="1" stop-color="#fff" stop-opacity="0.8"/></linearGradient></defs>
<g mask="url(#mCone)">
<rect x="460" y="0" width="290" height="520" filter="url(#fMat)"/>
<g mask="url(#mDig)"><rect x="460" y="0" width="290" height="520" filter="url(#fDig)"/></g>
<g mask="url(#mOx)"><rect x="590" y="180" width="160" height="300" filter="url(#fOx)"/></g>
<g mask="url(#mOxF)"><rect x="590" y="180" width="160" height="300" filter="url(#fOxF)"/></g>
<rect x="460" y="0" width="290" height="520" fill="url(#gFadeB)"/>
<path d="M613,16 C625,10 645,8 665,10 C685,13 700,19 712,29 C718,35 721,45 723,55 L727,100 L728,150 L726,200 L724,250 L721,300 L721,350 L721,400 L723,450 L720,480 C700,486 640,489 600,487 C560,484 525,476 495,462 L495,450 L500,430 L508,400 L511.5,380 L515.4,360 L519,340 L523,320 L526.7,300 L530.4,290 L538,250 L542.9,215 L544,200 L546.6,180 L550.4,160 L554.2,140 L559.3,120 L565.4,100 L571.7,80 L579.3,60 L585.6,40 L589.4,30 L596,21 C600,18 606,17 613,16 Z" fill="none" stroke="#fff" stroke-width="26" opacity="0.38" filter="url(#fBlur8b)"/>
</g>
<path d="M711,52 L709,60 L706,80 L700.6,100 L697,120 L682,140 L679,160 L671,190 L672,200 L664,240 L653,280 L648,300 L638.8,340 L634,360 L616,400 L602,430 L584,450 L569,461 L570,450 L576,430 L585,400 L596,360 L609,340 L616,300 L621,280 L636.6,240 L650.4,200 L650,190 L663,160 L670,140 L684,120 L686,100 L697,80 L702,60 L703,52 Z" fill="url(#gGBo)" opacity="0.82" stroke="#5e5a1c" stroke-width="1.2" filter="url(#fBlurS)"/>
<path d="M711.0,52 L709.0,60 L706.0,80 L700.6,100 L697.0,120 L682.0,140 L679.0,160 L671.0,190 L672.0,200 L664.0,240 L653.0,280 L648.0,300 L638.8,340 L634.0,360 L616.0,400 L602.0,430 L584.0,450 L569.0,461 L575.9,450 L586.9,430 L598.0,400 L612.0,360 L621.5,340 L629.4,300 L634.4,280 L648.1,240 L659.5,200 L658.8,190 L669.7,160 L675.0,140 L689.5,120 L692.1,100 L700.8,80 L704.9,60 L706.4,52 Z" fill="url(#gGBc)" opacity="0.85" filter="url(#fBlurS)"/>
<g clip-path="url(#cGB)" opacity="0.14"><rect x="560" y="40" width="160" height="430" filter="url(#fDig)"/></g>
<g mask="url(#mBlob)"><rect x="690" y="20" width="40" height="45" filter="url(#fBlob)"/></g>
<path d="M648.2,112.6 L653.3,119.1 L645.8,122.4Z" fill="#fff" transform="translate(0.8,1.5)"/><path d="M648.2,112.6 L653.3,119.1 L645.8,122.4Z" fill="#222"/><path d="M654.8,114.0 L659.9,120.4 L652.4,123.7Z" fill="#fff" transform="translate(0.8,1.5)"/><path d="M654.8,114.0 L659.9,120.4 L652.4,123.7Z" fill="#222"/><path d="M661.4,115.3 L666.5,121.8 L659.0,125.1Z" fill="#fff" transform="translate(0.8,1.5)"/><path d="M661.4,115.3 L666.5,121.8 L659.0,125.1Z" fill="#222"/><path d="M668.0,116.7 L673.1,123.1 L665.6,126.4Z" fill="#fff" transform="translate(0.8,1.5)"/><path d="M668.0,116.7 L673.1,123.1 L665.6,126.4Z" fill="#222"/><path d="M674.6,118.0 L679.7,124.5 L672.2,127.8Z" fill="#fff" transform="translate(0.8,1.5)"/><path d="M674.6,118.0 L679.7,124.5 L672.2,127.8Z" fill="#222"/><path d="M681.2,119.4 L686.3,125.8 L678.8,129.1Z" fill="#fff" transform="translate(0.8,1.5)"/><path d="M681.2,119.4 L686.3,125.8 L678.8,129.1Z" fill="#222"/><path d="M687.8,120.7 L692.9,127.2 L685.4,130.5Z" fill="#fff" transform="translate(0.8,1.5)"/><path d="M687.8,120.7 L692.9,127.2 L685.4,130.5Z" fill="#222"/><path d="M694.4,122.1 L699.5,128.5 L692.0,131.8Z" fill="#fff" transform="translate(0.8,1.5)"/><path d="M694.4,122.1 L699.5,128.5 L692.0,131.8Z" fill="#222"/><path d="M701.0,123.4 L706.1,129.9 L698.6,133.2Z" fill="#fff" transform="translate(0.8,1.5)"/><path d="M701.0,123.4 L706.1,129.9 L698.6,133.2Z" fill="#222"/>
<path d="M707.8,116.9 L721.0,134.1 L701.2,143.1Z" fill="#fff" transform="translate(0.8,1.5)"/><path d="M707.8,116.9 L721.0,134.1 L701.2,143.1Z" fill="#222"/>
<path d="M676.0,387.3 L670.5,392.8 L676.0,398.3Z" fill="#333" transform="translate(1.2,0.5)"/><path d="M676.0,387.3 L670.5,392.8 L676.0,398.3Z" fill="#fff"/><path d="M669.5,386.8 L664.0,392.2 L669.5,397.8Z" fill="#333" transform="translate(1.2,0.5)"/><path d="M669.5,386.8 L664.0,392.2 L669.5,397.8Z" fill="#fff"/><path d="M663.0,386.2 L657.5,391.7 L663.0,397.2Z" fill="#333" transform="translate(1.2,0.5)"/><path d="M663.0,386.2 L657.5,391.7 L663.0,397.2Z" fill="#fff"/><path d="M656.5,385.7 L651.0,391.2 L656.5,396.7Z" fill="#333" transform="translate(1.2,0.5)"/><path d="M656.5,385.7 L651.0,391.2 L656.5,396.7Z" fill="#fff"/><path d="M650.0,385.1 L644.5,390.6 L650.0,396.1Z" fill="#333" transform="translate(1.2,0.5)"/><path d="M650.0,385.1 L644.5,390.6 L650.0,396.1Z" fill="#fff"/><path d="M643.5,384.6 L638.0,390.1 L643.5,395.6Z" fill="#333" transform="translate(1.2,0.5)"/><path d="M643.5,384.6 L638.0,390.1 L643.5,395.6Z" fill="#fff"/><path d="M637.0,384.0 L631.5,389.5 L637.0,395.0Z" fill="#333" transform="translate(1.2,0.5)"/><path d="M637.0,384.0 L631.5,389.5 L637.0,395.0Z" fill="#fff"/>
<path d="M629.0,374.0 L610.0,388.5 L629.0,403.0Z" fill="#333" transform="translate(1.2,0.5)"/><path d="M629.0,374.0 L610.0,388.5 L629.0,403.0Z" fill="#fff"/>
<line x1="697" y1="176" x2="790" y2="283" stroke="#000" stroke-width="3"/>
<line x1="693" y1="305" x2="778" y2="361" stroke="#000" stroke-width="3"/>
<circle cx="697" cy="176" r="6.5" fill="#fff" stroke="#000" stroke-width="2.2"/>
<circle cx="693" cy="305" r="6.5" fill="#fff" stroke="#000" stroke-width="2.2"/>
<path d="M761.3,33.4 C766,37 770,39 776,39 C788,39 796,30 806,29.7 C811,29.7 814,31 817.2,33.6 L817.2,50.4 C814,48 810,45.7 804,45.7 C792,45.7 786,54.1 775,54.1 C769,54.1 765,52 761.3,50.4 Z" fill="#0036cc" stroke="#111" stroke-width="0.9"/>
<path d="M757.6,88.8 C762,92 766,93 772,93 C784,93 792,84.6 803,84.6 C808,84.6 811,86 814,88.8 L814,105 C811,103 807,100.3 801.4,100.3 C790,100.3 782,109.2 771,109.2 C765,109.2 761,107 757.6,105 Z" fill="#ff9900" stroke="#111" stroke-width="0.9"/>
<circle cx="799.5" cy="150.4" r="13.3" fill="#0036cc" stroke="#111" stroke-width="1"/>
<circle cx="799.5" cy="189.2" r="13.3" fill="#00cc00" stroke="#111" stroke-width="1"/>
<circle cx="799.5" cy="227" r="13.3" fill="#ff9900" stroke="#111" stroke-width="1"/>
<path d="M735.1,452.3 L750.3,449 L793.8,455.1 L776.3,459.4 L750.3,455.6 Z" fill="#6e6e6e"/>
<path d="M735.1,452.3 L750.3,455.6 L747,494.4 L730.4,498.2 Z" fill="#acacac"/>
<path d="M750.3,455.6 L776.3,459.4 L772.5,498.2 L747,494.4 Z" fill="#cecece"/>
<path d="M776.3,459.4 L793.8,455.1 L790,500.6 L772.5,498.2 Z" fill="#b4b4b4"/>
<path d="M730.4,498.2 L747,494.4 L772.5,498.2 L772,504.8 Z" fill="#a2a2a2"/>
<path d="M772.5,498.2 L790,500.6 L772,504.8 Z" fill="#727272"/>
<text x="10.91" y="42.00" font-size="41" font-weight="700" fill="#000" textLength="52.29" lengthAdjust="spacingAndGlyphs" >(a)</text>
<text x="259.86" y="40.40" font-size="29.5" font-weight="400" fill="#231f20" textLength="184.36" lengthAdjust="spacingAndGlyphs" >Ni-Fe spinels</text>
<text x="44.52" y="171.20" font-size="32" font-weight="400" fill="#1212f0" textLength="55.30" lengthAdjust="spacingAndGlyphs" >new</text>
<text x="10.86" y="209.20" font-size="32" font-weight="400" fill="#1212f0" textLength="123.14" lengthAdjust="spacingAndGlyphs" >corrosion</text>
<text x="183.90" y="273.00" font-size="42" font-weight="700" fill="#000" textLength="53.75" lengthAdjust="spacingAndGlyphs" >(b)</text>
<text x="346.77" y="263.70" font-size="29.5" font-weight="400" fill="#f4f0d0" textLength="122.33" lengthAdjust="spacingAndGlyphs" >migrated</text>
<text x="345.57" y="262.30" font-size="29.5" font-weight="400" fill="#231f20" textLength="122.33" lengthAdjust="spacingAndGlyphs" >migrated</text>
<text x="338.88" y="300.80" font-size="29.5" font-weight="400" fill="#f4f0d0" textLength="130.34" lengthAdjust="spacingAndGlyphs" >boundary</text>
<text x="337.68" y="299.40" font-size="29.5" font-weight="400" fill="#231f20" textLength="130.34" lengthAdjust="spacingAndGlyphs" >boundary</text>
<text x="93.54" y="359.00" font-size="29.5" font-weight="400" fill="#f4f0d0" textLength="100.71" lengthAdjust="spacingAndGlyphs" >original</text>
<text x="92.34" y="357.60" font-size="29.5" font-weight="400" fill="#231f20" textLength="100.71" lengthAdjust="spacingAndGlyphs" >original</text>
<text x="39.85" y="396.50" font-size="29.5" font-weight="400" fill="#f4f0d0" textLength="207.16" lengthAdjust="spacingAndGlyphs" >grain boundary</text>
<text x="38.65" y="395.10" font-size="29.5" font-weight="400" fill="#231f20" textLength="207.16" lengthAdjust="spacingAndGlyphs" >grain boundary</text>
<text x="62.29" y="88.90" font-size="31.5" font-weight="400" fill="#231f20" textLength="33.46" lengthAdjust="spacingAndGlyphs" >Cr</text>
<text x="95.40" y="98.80" font-size="19" font-weight="400" fill="#231f20" textLength="10.58" lengthAdjust="spacingAndGlyphs" >2</text>
<text x="106.33" y="88.90" font-size="31.5" font-weight="400" fill="#231f20" textLength="23.74" lengthAdjust="spacingAndGlyphs" >O</text>
<text x="129.50" y="99.00" font-size="19" font-weight="400" fill="#231f20" textLength="10.58" lengthAdjust="spacingAndGlyphs" >3</text>
<text x="60.63" y="883.70" font-size="29" font-weight="400" fill="#000" textLength="15.68" lengthAdjust="spacingAndGlyphs" >0</text>
<text x="43.99" y="821.30" font-size="29" font-weight="400" fill="#000" textLength="32.48" lengthAdjust="spacingAndGlyphs" >20</text>
<text x="43.99" y="758.90" font-size="29" font-weight="400" fill="#000" textLength="32.48" lengthAdjust="spacingAndGlyphs" >40</text>
<text x="43.99" y="696.50" font-size="29" font-weight="400" fill="#000" textLength="32.48" lengthAdjust="spacingAndGlyphs" >60</text>
<text x="43.99" y="634.10" font-size="29" font-weight="400" fill="#000" textLength="32.48" lengthAdjust="spacingAndGlyphs" >80</text>
<text x="77.75" y="911.40" font-size="27.6" font-weight="400" fill="#000" textLength="16.07" lengthAdjust="spacingAndGlyphs" >0</text>
<text x="158.79" y="911.40" font-size="27.6" font-weight="400" fill="#000" textLength="14.92" lengthAdjust="spacingAndGlyphs" >4</text>
<text x="239.67" y="911.40" font-size="27.6" font-weight="400" fill="#000" textLength="16.07" lengthAdjust="spacingAndGlyphs" >8</text>
<text x="312.98" y="911.40" font-size="27.6" font-weight="400" fill="#000" textLength="30.70" lengthAdjust="spacingAndGlyphs" >12</text>
<text x="394.01" y="911.40" font-size="27.6" font-weight="400" fill="#000" textLength="29.61" lengthAdjust="spacingAndGlyphs" >16</text>
<text x="475.97" y="911.40" font-size="27.6" font-weight="400" fill="#000" textLength="28.59" lengthAdjust="spacingAndGlyphs" >20</text>
<text x="562.63" y="884.00" font-size="29" font-weight="400" fill="#000" textLength="15.68" lengthAdjust="spacingAndGlyphs" >0</text>
<text x="545.99" y="821.70" font-size="29" font-weight="400" fill="#000" textLength="32.48" lengthAdjust="spacingAndGlyphs" >20</text>
<text x="545.99" y="759.40" font-size="29" font-weight="400" fill="#000" textLength="32.48" lengthAdjust="spacingAndGlyphs" >40</text>
<text x="545.99" y="697.10" font-size="29" font-weight="400" fill="#000" textLength="32.48" lengthAdjust="spacingAndGlyphs" >60</text>
<text x="545.99" y="634.80" font-size="29" font-weight="400" fill="#000" textLength="32.48" lengthAdjust="spacingAndGlyphs" >80</text>
<text x="579.15" y="911.60" font-size="27.6" font-weight="400" fill="#000" textLength="16.07" lengthAdjust="spacingAndGlyphs" >0</text>
<text x="637.05" y="911.60" font-size="27.6" font-weight="400" fill="#000" textLength="16.07" lengthAdjust="spacingAndGlyphs" >2</text>
<text x="695.03" y="911.60" font-size="27.6" font-weight="400" fill="#000" textLength="14.92" lengthAdjust="spacingAndGlyphs" >4</text>
<text x="752.85" y="911.60" font-size="27.6" font-weight="400" fill="#000" textLength="16.07" lengthAdjust="spacingAndGlyphs" >6</text>
<text x="810.75" y="911.60" font-size="27.6" font-weight="400" fill="#000" textLength="16.07" lengthAdjust="spacingAndGlyphs" >8</text>
<text x="861.07" y="911.60" font-size="27.6" font-weight="400" fill="#000" textLength="29.61" lengthAdjust="spacingAndGlyphs" >10</text>
<text x="918.90" y="911.60" font-size="27.6" font-weight="400" fill="#000" textLength="30.70" lengthAdjust="spacingAndGlyphs" >12</text>
<text x="18.16" y="551.50" font-size="44" font-weight="700" fill="#000" textLength="164.63" lengthAdjust="spacingAndGlyphs" >(c) line 1</text>
<text x="524.04" y="548.00" font-size="44" font-weight="700" fill="#000" textLength="177.12" lengthAdjust="spacingAndGlyphs" >(d) line 2</text>
<text x="122.74" y="586.90" font-size="39" font-weight="400" fill="#000" textLength="104.73" lengthAdjust="spacingAndGlyphs" >Matrix</text>
<text x="336.13" y="586.50" font-size="33.4" font-weight="400" fill="#000" textLength="161.51" lengthAdjust="spacingAndGlyphs" >DIGM zone</text>
<text x="585.99" y="586.50" font-size="33.4" font-weight="400" fill="#000" textLength="87.65" lengthAdjust="spacingAndGlyphs" >Oxide</text>
<text x="738.99" y="586.20" font-size="32.5" font-weight="400" fill="#000" textLength="164.87" lengthAdjust="spacingAndGlyphs" >DIGM zone</text>
<text x="156.17" y="665.90" font-size="39" font-weight="400" fill="#000" textLength="34.77" lengthAdjust="spacingAndGlyphs" >Ni</text>
<text x="155.36" y="836.60" font-size="38.4" font-weight="400" fill="#000" textLength="35.29" lengthAdjust="spacingAndGlyphs" >Cr</text>
<text x="186.19" y="943.40" font-size="29.5" font-weight="700" fill="#000" textLength="186.75" lengthAdjust="spacingAndGlyphs" >Distance (nm)</text>
<text x="659.50" y="943.40" font-size="29.5" font-weight="700" fill="#000" textLength="185.63" lengthAdjust="spacingAndGlyphs" >Distance (nm)</text>
<text x="601.43" y="816.50" font-size="35.8" font-weight="400" fill="#000" textLength="38.62" lengthAdjust="spacingAndGlyphs" >Fe</text>
<text x="492.46" y="46.50" font-size="41" font-weight="700" fill="#000" textLength="53.32" lengthAdjust="spacingAndGlyphs" >(b)</text>
<text x="592.44" y="100.40" font-size="33" font-weight="400" fill="#111" textLength="77.42" lengthAdjust="spacingAndGlyphs" stroke="#e8e8c8" stroke-width="0.6" paint-order="stroke">line 1</text>
<text x="535.22" y="204.50" font-size="30" font-weight="400" fill="#1a1a1a" textLength="84.77" lengthAdjust="spacingAndGlyphs" >matrix</text>
<text x="584.59" y="355.20" font-size="34.5" font-weight="400" fill="#fff" textLength="78.83" lengthAdjust="spacingAndGlyphs" >line 2</text>
<text x="827.06" y="51.50" font-size="32" font-weight="400" fill="#000" textLength="115.22" lengthAdjust="spacingAndGlyphs" >8 % CrO</text>
<text x="827.94" y="107.00" font-size="32.5" font-weight="400" fill="#000" textLength="109.14" lengthAdjust="spacingAndGlyphs" >22 % Cr</text>
<text x="827.31" y="160.20" font-size="31" font-weight="400" fill="#000" textLength="56.41" lengthAdjust="spacingAndGlyphs" >CrO</text>
<text x="827.23" y="201.80" font-size="31" font-weight="400" fill="#000" textLength="33.22" lengthAdjust="spacingAndGlyphs" >Ni</text>
<text x="827.55" y="237.50" font-size="31" font-weight="400" fill="#000" textLength="31.87" lengthAdjust="spacingAndGlyphs" >Cr</text>
<text x="773.57" y="324.00" font-size="32.8" font-weight="400" fill="#231f20" textLength="161.84" lengthAdjust="spacingAndGlyphs" >DIGM zone</text>
<text x="784.81" y="377.50" font-size="32" font-weight="400" fill="#231f20" textLength="75.67" lengthAdjust="spacingAndGlyphs" >oxide</text>
<text x="740.17" y="438.00" font-size="32.8" font-weight="400" fill="#000" textLength="92.62" lengthAdjust="spacingAndGlyphs" >10 nm</text>
<text x="594.22" y="710.50" font-size="37" font-weight="400" fill="#000" textLength="28.55" lengthAdjust="spacingAndGlyphs" >O</text>
<text x="813.77" y="681.00" font-size="38" font-weight="400" fill="#000" textLength="35.08" lengthAdjust="spacingAndGlyphs" >Ni</text>
<text x="813.25" y="796.50" font-size="37" font-weight="400" fill="#000" textLength="36.20" lengthAdjust="spacingAndGlyphs" >Cr</text>
<text transform="translate(33.2,885.58) rotate(-90)" x="0" y="0" font-size="32" font-weight="700" textLength="284.07" lengthAdjust="spacingAndGlyphs">Concentration (at. %)</text>
<text transform="translate(538.2,885.58) rotate(-90)" x="0" y="0" font-size="32" font-weight="700" textLength="284.07" lengthAdjust="spacingAndGlyphs">Concentration (at. %)</text>
</svg></body></html>
